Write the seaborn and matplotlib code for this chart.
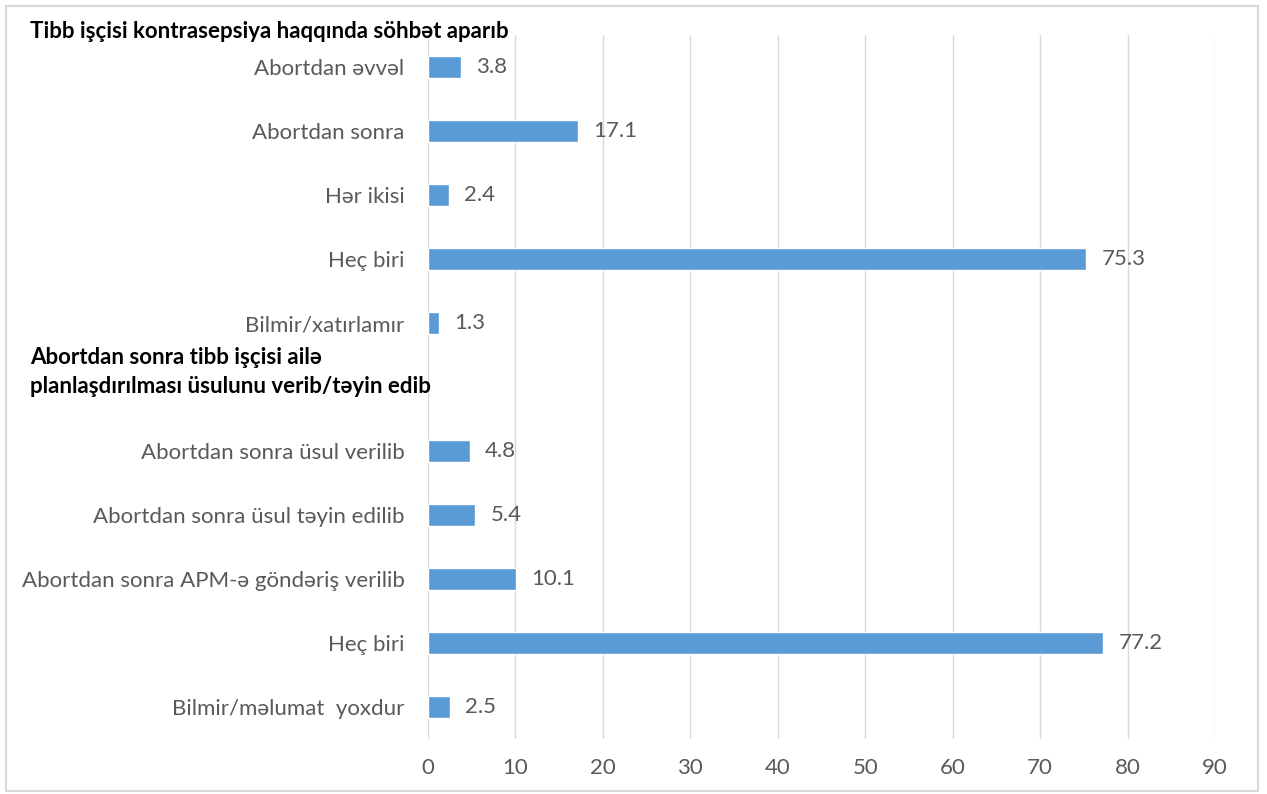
import matplotlib
matplotlib.use("Agg")
import matplotlib.pyplot as plt
import seaborn as sns
import pandas as pd
import numpy as np

# Survey answers, two question blocks separated by a blank header row
labels_block1 = ["Abortdan əvvəl", "Abortdan sonra", "Hər ikisi", "Heç biri", "Bilmir/xatırlamır"]
values_block1 = [3.8, 17.1, 2.4, 75.3, 1.3]
labels_block2 = ["Abortdan sonra üsul verilib", "Abortdan sonra üsul təyin edilib",
                 "Abortdan sonra APM-ə göndəriş verilib", "Heç biri", "Bilmir/məlumat  yoxdur"]
values_block2 = [4.8, 5.4, 10.1, 77.2, 2.5]
header1 = "Tibb işçisi kontrasepsiya haqqında söhbət aparıb"
header2 = "Abortdan sonra tibb işçisi ailə\nplanlaşdırılması üsulunu verib/təyin edib"
x_ticks = [0, 10, 20, 30, 40, 50, 60, 70, 80, 90]

tick_labels = labels_block1 + [""] + labels_block2
values = values_block1 + [np.nan] + values_block2
keys = [f"r{i}" for i in range(len(tick_labels))]
df = pd.DataFrame({"key": keys, "value": values})

sns.set_theme(style="white")
plt.rcParams["font.family"] = ["Lato", "DejaVu Sans"]

W, H = 1267, 794
fig = plt.figure(figsize=(W / 100, H / 100), dpi=100)
ax = fig.add_axes([428 / W, 1 - 739 / H, (1215 - 428) / W, (739 - 35) / H])

bar_color = "#5B9BD5"
text_gray = "#595959"
sns.barplot(data=df.dropna(), x="value", y="key", order=keys, orient="h",
            color=bar_color, width=0.35, ax=ax, saturation=1)

ax.set_xlim(0, 90)
ax.set_ylim(len(keys) - 0.5, -0.5)
ax.set_xticks(x_ticks)
ax.set_xticklabels([str(t) for t in x_ticks], color=text_gray, fontsize=16)
ax.set_yticks(range(len(keys)))
ax.set_yticklabels(tick_labels, color=text_gray, fontsize=16)
ax.tick_params(axis="both", length=0)
ax.tick_params(axis="x", pad=14)
ax.tick_params(axis="y", pad=17)
ax.set_xlabel("")
ax.set_ylabel("")
ax.grid(axis="x", color="#D9D9D9", linewidth=1)
ax.set_axisbelow(True)
for s in ax.spines.values():
    s.set_visible(False)

for i, v in enumerate(values):
    if not np.isnan(v):
        ax.annotate(f"{v:.1f}", xy=(v, i), xytext=(11, 0), textcoords="offset points",
                    va="center", ha="left", color=text_gray, fontsize=16)

fig.text(30 / W, 1 - 32 / H, header1, fontsize=16, fontweight="bold",
         color="black", va="center", ha="left")
fig.text(30 / W, 1 - 372 / H, header2, fontsize=16, fontweight="bold",
         color="black", va="center", ha="left", linespacing=1.45)

# light frame around the whole figure
frame = plt.Rectangle((6 / W, 3 / H), (1258 - 6) / W, (788 - 3) / H, transform=fig.transFigure,
                      fill=False, edgecolor="#D9D9D9", linewidth=1.5)
fig.patches.append(frame)

fig.savefig("out.png", dpi=100, facecolor="white")
